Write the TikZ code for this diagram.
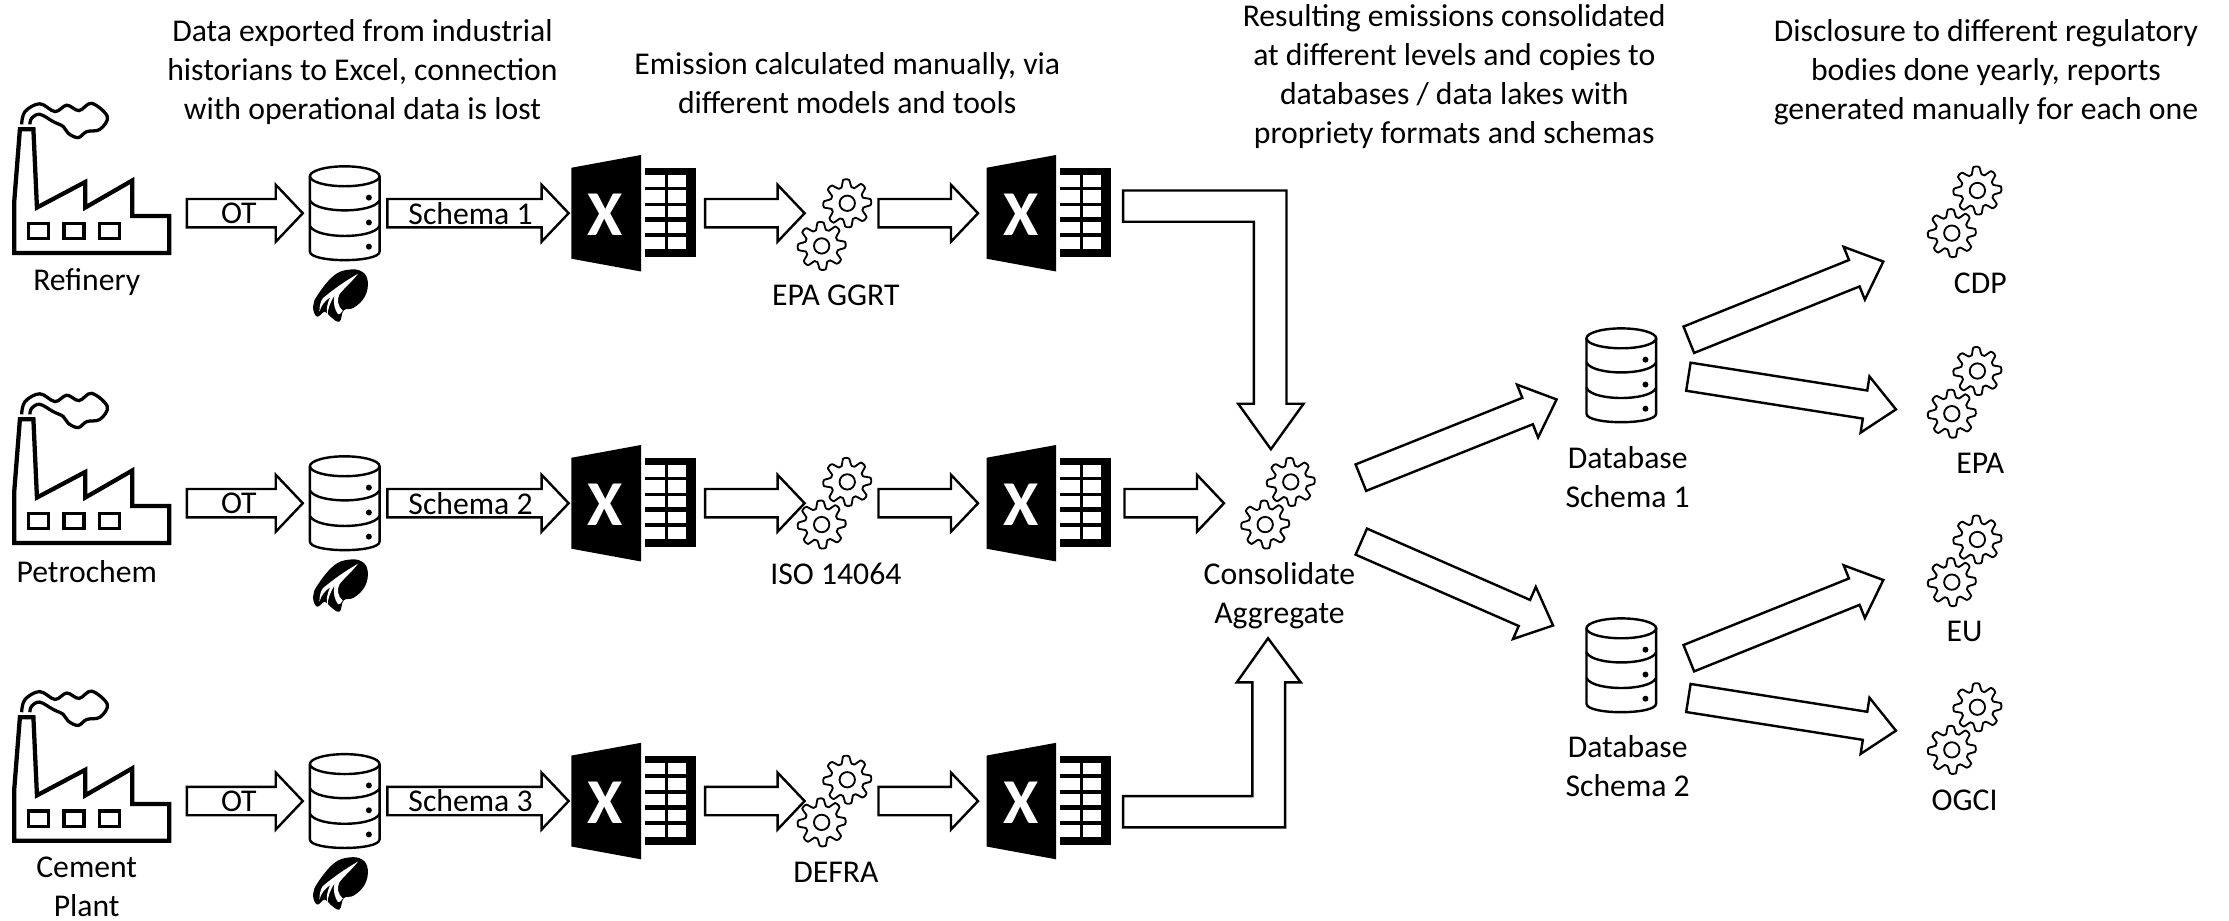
\documentclass[tikz,border=0pt]{standalone}
\usepackage{fontspec}
\setmainfont{Carlito}
\usetikzlibrary{calc}
\tikzset{
  blk/.style={draw=black,fill=white,line width=1.7pt,line join=miter},
  lbl/.style={font=\fontsize{22.3}{27.4}\selectfont,align=center,inner sep=0pt,text=black},
  icon/.style={draw=black,line width=2.3pt,line join=miter},
  dbline/.style={draw=black,line width=1.7pt,line cap=round,line join=round},
  factory/.pic={
    \draw[icon,line width=3pt] (14,91) -- (23.5,91) -- (26,146) -- (60,128) -- (60,146) -- (93,127) -- (93,152) -- (119,152) -- (119,178) -- (10,178) -- (10,142) -- cycle;
    \foreach \wx in {20,45,70} \draw[icon] (\wx,157) rectangle ++(14,11);
    \draw[icon,line cap=butt] plot[smooth,tension=.6] coordinates {(15.2,87.5)(17.6,78.5)(28,73)(38.7,78.5)(47,74)(55.6,77.8)(64.5,72.7)(75.5,82)(70.3,91)(61,92.6)(55,96.8)(48,93.8)(44.5,89)(37.5,85.6)(28,80.4)(22.3,83.2)(21,87.5)};
  },
  dbicon/.pic={
    \draw[dbline,fill=white] (-24.5,7) -- (-24.5,60) .. controls (-24.5,64) and (-12,66) .. (0,66) .. controls (12,66) and (24.5,64) .. (24.5,60) -- (24.5,7);
    \draw[dbline] (0,7) ellipse [x radius=24.5,y radius=7];
    \draw[dbline] (-24.5,24) .. controls (-22,29) and (-10,31) .. (0,31) .. controls (10,31) and (22,29) .. (24.5,24);
    \draw[dbline] (-24.5,42) .. controls (-22,47) and (-10,49) .. (0,49) .. controls (10,49) and (22,47) .. (24.5,42);
    \foreach \dy in {22,39.5,56.5} \fill (17,\dy) circle (2.1);
  },
  excel/.pic={
    \fill (0,9) -- (49,0) -- (49,82) -- (0,73) -- cycle;
    \fill (52,9.3) rectangle (87.5,72);
    \foreach \ya/\yb in {14/22.3,25/33.5,35.8/44,47/55,57.7/66.5} {
      \fill[white] (51,\ya) rectangle (65.7,\yb);
      \fill[white] (67.8,\ya) rectangle (80.8,\yb);
    }
    \node[font=\fontsize{45}{45}\selectfont\bfseries,text=white,inner sep=0pt] at (24,42) {X};
  },
  gear/.pic={
    \draw[draw=black,line width=1.3pt,fill=white,line join=round] plot[smooth cycle,samples=72,domain=0:355] (\x:{14.3+2.6*max(-1,min(1,1.7*cos(8*\x+22.5)))});
    \draw[draw=black,line width=1.3pt] (0,0) circle (5.4);
  },
  gears/.pic={
    \pic at (18,-15) {gear};
    \pic at (0,15) {gear};
  },
  logo/.pic={
    \begin{scope}[x=.2345pt,y=-.2345pt,shift={(-113,-92)}]
      \fill plot[smooth cycle,tension=.7] coordinates {(33,125)(48,88)(95,32)(140,14)(180,20)(197,50)(188,95)(155,128)(125,136)(112,170)(85,155)(68,140)(45,155)};
      \fill[white] (168,26) .. controls (130,48) and (95,72) .. (62,100) .. controls (55,110) and (52,125) .. (52,140) .. controls (58,120) and (68,108) .. (85,96) .. controls (74,118) and (72,135) .. (76,150) .. controls (78,130) and (84,112) .. (97,92) .. controls (92,112) and (98,135) .. (108,148) .. controls (110,150) and (118,145) .. (122,137) .. controls (108,125) and (103,105) .. (112,88) .. controls (125,70) and (150,50) .. (168,26) -- cycle;
    \end{scope}
  },
}
\newcommand{\blockarrow}[5]{%
  \coordinate (n#1) at ($(#2)!#5pt!(#1)$);
  \draw[blk] ($(#1)!#3pt!90:(#2)$) -- ($(n#1)!#3pt!90:(#2)$) -- ($(n#1)!#4pt!90:(#2)$) -- (#2)
    -- ($(n#1)!#4pt!-90:(#2)$) -- ($(n#1)!#3pt!-90:(#2)$) -- ($(#1)!#3pt!-90:(#2)$) -- cycle;
}
\newcommand{\harrow}[2]{\blockarrow{#1}{#2}{10}{20}{19}}
\begin{document}
\begin{tikzpicture}[x=1pt,y=-1pt]
\useasboundingbox (0,0) rectangle (1568,647.2);
% headers
\node[lbl] (t1) at (255,50.5) {Data exported from industrial\\historians to Excel, connection\\with operational data is lost};
\node[lbl] (t2) at (596,58.5) {Emission calculated manually, via\\different models and tools};
\node[lbl] (t3) at (1023,54) {Resulting emissions consolidated\\at different levels and copies to\\databases / data lakes with\\propriety formats and schemas};
\node[lbl] (t4) at (1397,50.5) {Disclosure to different regulatory\\bodies done yearly, reports\\generated manually for each one};
% rows
\foreach \r/\off/\goff/\sch/\calc in {1/0/0/Schema 1/EPA GGRT,2/204/196/Schema 2/ISO 14064,3/413.5/405.5/Schema 3/DEFRA}{
  \begin{scope}[shift={(0,\off)}]
    \pic at (0,0) {factory};
    \pic at (242.5,117) {dbicon};
    \pic at (239,208) {logo};
    \pic at (402,109) {excel};
    \pic at (694,109) {excel};
    \coordinate (a\r) at (131.5,150); \coordinate (b\r) at (213,150);
    \coordinate (c\r) at (272.5,150); \coordinate (d\r) at (400,150);
    \coordinate (e\r) at (496,150); \coordinate (f\r) at (566,150);
    \coordinate (g\r) at (618,150); \coordinate (h\r) at (688,150);
    \harrow{a\r}{b\r}
    \harrow{c\r}{d\r}
    \harrow{e\r}{f\r}
    \harrow{g\r}{h\r}
    \node[lbl] (ot\r) at (168,150) {OT};
    \node[lbl] (sc\r) at (331,150) {\sch};
  \end{scope}
  \begin{scope}[shift={(0,\goff)}]
    \pic at (578,158) {gears};
    \node[lbl] (cl\r) at (588,208) {\calc};
  \end{scope}
}
\node[lbl] (f1) at (61,198.5) {Refinery};
\node[lbl] (f2) at (61,402) {Petrochem};
\node[lbl] (f3) at (61,624) {Cement\\Plant};
% consolidate
\pic at (890,354) {gears};
\node[lbl] (cons) at (900,419) {Consolidate\\Aggregate};
\coordinate (m1) at (791,354); \coordinate (m2) at (861,354);
\harrow{m1}{m2}
\coordinate (up0) at (790,134); \coordinate (up1) at (790,156);
\coordinate (dn0) at (790,560); \coordinate (dn1) at (790,582);
\draw[blk] (up0) -- (905,134) -- (905,284) -- (917,284) -- (894,316) -- (871,284) -- (882,284) -- (882,156) -- (up1) -- cycle;
\draw[blk] (dn0) -- (881,560) -- (881,480) -- (870,480) -- (892,449) -- (915,480) -- (904,480) -- (904,582) -- (dn1) -- cycle;
% databases
\pic at (1140.5,231) {dbicon};
\pic at (1140.5,435) {dbicon};
\node[lbl] (d1) at (1145,335.5) {Database\\Schema 1};
\node[lbl] (d2) at (1145,539) {Database\\Schema 2};
\coordinate (s1) at (957.3,336); \coordinate (s1e) at (1095,281);
\coordinate (s2) at (957.6,381); \coordinate (s2e) at (1092.5,440);
\blockarrow{s1}{s1e}{10}{20}{22}
\blockarrow{s2}{s2e}{10}{20}{22}
\coordinate (r1) at (1188,239); \coordinate (r1e) at (1324.8,184);
\coordinate (r2) at (1187.7,265); \coordinate (r2e) at (1333.7,288);
\coordinate (r3) at (1188,463); \coordinate (r3e) at (1324.8,408);
\coordinate (r4) at (1187.7,491); \coordinate (r4e) at (1333.7,514);
\blockarrow{r1}{r1e}{10}{20}{22}
\blockarrow{r2}{r2e}{10}{20}{22}
\blockarrow{r3}{r3e}{10}{20}{22}
\blockarrow{r4}{r4e}{10}{20}{22}
% reports
\pic at (1373,149) {gears};
\pic at (1373,276) {gears};
\pic at (1373,394.5) {gears};
\pic at (1373,512.5) {gears};
\node[lbl] (p1) at (1393,199) {CDP};
\node[lbl] (p2) at (1393,326) {EPA};
\node[lbl] (p3) at (1382,444) {EU};
\node[lbl] (p4) at (1382,563) {OGCI};
\end{tikzpicture}
\end{document}
